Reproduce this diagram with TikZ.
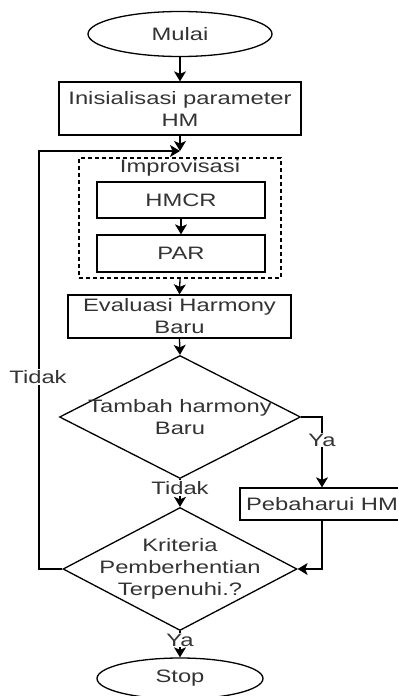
\documentclass[tikz,border=0pt]{standalone}
\usepackage{fontspec}
\setmainfont{Liberation Sans}[FakeStretch=1.32]
\usetikzlibrary{shapes.geometric,arrows.meta}
\begin{document}
\begin{tikzpicture}[x=1pt,y=-1pt,
  every node/.style={font=\fontsize{18}{22}\selectfont, text=black!80, inner sep=0pt},
  box/.style={draw, line width=1.3pt, rectangle, align=center},
  oval/.style={draw, line width=1.3pt, ellipse},
  decision/.style={draw, line width=1.3pt, diamond},
  group/.style={draw, line width=1.3pt, dash pattern=on 4pt off 3pt, rectangle},
  lbl/.style={fill=white, inner sep=1pt, align=center},
  flow/.style={line width=1.3pt, -{Stealth[length=10pt,width=12pt,inset=2.5pt]}}]
\useasboundingbox (0,0) rectangle (398,696);

% start / end ovals
\node[oval, minimum width=184pt, minimum height=45pt] (mulai) at (180,34) {Mulai};
\node[oval, minimum width=166pt, minimum height=41pt] (stop) at (180,678.5) {Stop};

% process boxes
\node[box, minimum width=242pt, minimum height=53pt] (init) at (180,108.5) {Inisialisasi parameter\\HM};
\node[group, minimum width=202pt, minimum height=120pt] (improv) at (180,218) {};
\node (improvlbl) at (180,168) {Improvisasi};
\node[box, minimum width=168pt, minimum height=36pt] (hmcr) at (181,200) {HMCR};
\node[box, minimum width=168pt, minimum height=37pt] (par) at (181,253.5) {PAR};
\node[box, minimum width=223pt, minimum height=43pt] (eval) at (179.5,316.5) {Evaluasi Harmony\\Baru};
\node[box, minimum width=164pt, minimum height=32pt] (peb) at (322,504) {Pebaharui HM};

% decisions (outline and text as separate nodes so the text may overhang)
\node[decision, minimum width=241pt, minimum height=123pt] (d1) at (180,417) {};
\node[align=center] (d1t) at (180,417) {Tambah harmony\\Baru};
\node[decision, minimum width=234pt, minimum height=123pt] (d2) at (180,569) {};
\node[align=center] (d2t) at (180,569) {Kriteria\\Pemberhentian\\Terpenuhi.?};

% junction above the improvisation group
\coordinate (join) at (180,151);
\coordinate (loopL) at (39,151);

% connectors
\draw[flow] (mulai.south) -- (init.north);
\draw[flow] (init.south) -- (join);
\draw[flow] (hmcr.south) -- (par.north);
\draw[flow] (improv.south) -- (eval.north);
\draw[flow] (eval.south) -- (d1.north);
\draw[flow] (d1.east) -| (peb.north);
\draw[flow] (peb.south) |- (d2.east);
\draw[flow] (d1.south) -- (d2.north);
\draw[flow] (d2.west) -| (loopL) -- (join);
\draw[flow] (d2.south) -- (stop.north);

% connector labels
\node[lbl] (ya1) at (322,440) {Ya};
\node[lbl] (tidak1) at (180,488) {Tidak};
\node[lbl] (tidak2) at (38,377) {Tidak};
\node[lbl] (ya2) at (180,640) {Ya};
\end{tikzpicture}
\end{document}
